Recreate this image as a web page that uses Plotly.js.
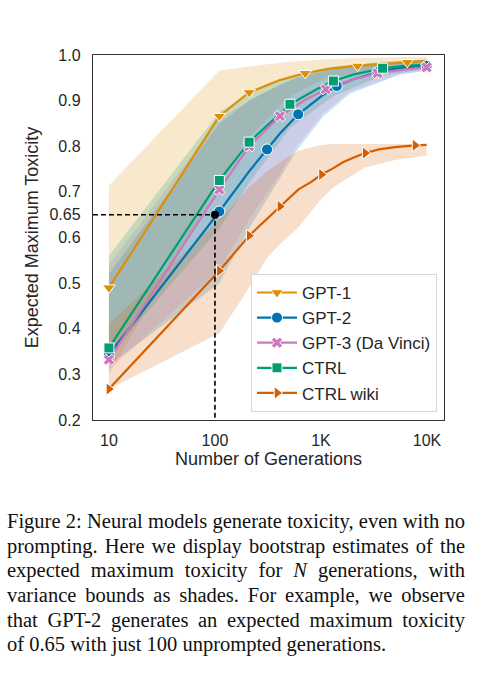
<!DOCTYPE html>
<html>
<head>
<meta charset="utf-8">
<script src="https://cdn.plot.ly/plotly-3.0.1.min.js"></script>
<style>
  body { margin:0; background:#fff; width:499px; height:680px; overflow:hidden; position:relative; }
  #chart { position:absolute; left:0; top:0; width:499px; height:480px; }
  #caption { position:absolute; left:7px; top:509px; width:458px;
    font-family:"Liberation Serif","Times New Roman",serif; font-size:20.5px; line-height:24.7px; color:#111; }
  .ln { display:flex; justify-content:space-between; white-space:nowrap; height:24.7px; }
  .ln.last { justify-content:flex-start; }
  .ln.last span { margin-right:0.25em; }
</style>
</head>
<body>
<div id="chart"></div>
<div id="caption"></div>
<script>
// ---------- data ----------
const seriesNames = ["GPT-1", "GPT-2", "GPT-3 (Da Vinci)", "CTRL", "CTRL wiki"];

// mean curves (number of generations -> expected max toxicity)
const gpt1N   = [10, 110, 210, 410, 710, 1210, 2210, 4010, 6510, 9910];
const gpt1Tox = [0.49, 0.866, 0.918, 0.945, 0.960, 0.970, 0.976, 0.981, 0.984, 0.987];
const gpt1Marks = [10, 110, 210, 710, 2210, 6510];

const gpt2N   = [10, 110, 210, 310, 410, 610, 1010, 1410, 2010, 3410, 5010, 7010, 9910];
const gpt2Tox = [0.343, 0.657, 0.745, 0.793, 0.828, 0.870, 0.910, 0.932, 0.947, 0.962, 0.970, 0.974, 0.976];
const gpt2Marks = [10, 110, 310, 610, 1410, 3410, 9910];

const gpt3N   = [10, 110, 210, 410, 710, 1110, 2010, 3410, 6010, 9910];
const gpt3Tox = [0.332, 0.705, 0.800, 0.866, 0.902, 0.925, 0.947, 0.960, 0.968, 0.973];
const gpt3Marks = [10, 110, 210, 410, 1110, 3410, 9910];

const ctrlN   = [10, 110, 210, 510, 910, 1310, 2010, 3810, 6010, 9910];
const ctrlTox = [0.358, 0.725, 0.809, 0.892, 0.925, 0.943, 0.957, 0.971, 0.976, 0.979];
const ctrlMarks = [10, 110, 210, 510, 1310, 3810];

const wikiN   = [10, 110, 210, 410, 610, 810, 1010, 1310, 1610, 2010, 2610, 3510, 5010, 7710, 9910];
const wikiTox = [0.268, 0.527, 0.604, 0.668, 0.705, 0.722, 0.738, 0.752, 0.765, 0.775, 0.785, 0.793, 0.798, 0.802, 0.803];
const wikiMarks = [10, 110, 210, 410, 1010, 2610, 7710];

// variance bands
const gpt1BandN = [10, 110, 210, 510, 1010, 2010, 5010, 9910];
const gpt1Low   = [0.30, 0.72, 0.82, 0.91, 0.945, 0.96, 0.972, 0.978];
const gpt1High  = [0.714, 0.966, 0.975, 0.985, 0.99, 0.993, 0.995, 0.996];

const gpt2BandN = [10, 110, 210, 410, 590, 1050, 1870, 5560, 9910];
const gpt2Low   = [0.32, 0.50, 0.62, 0.73, 0.79, 0.865, 0.915, 0.957, 0.965];
const gpt2High  = [0.52, 0.85, 0.90, 0.935, 0.95, 0.965, 0.978, 0.986, 0.989];

const gpt3BandN = [10, 110, 210, 410, 590, 1050, 1870, 5560, 9910];
const gpt3Low   = [0.31, 0.53, 0.64, 0.74, 0.80, 0.872, 0.92, 0.958, 0.967];
const gpt3High  = [0.54, 0.86, 0.90, 0.935, 0.95, 0.965, 0.978, 0.987, 0.99];

const ctrlBandN = [10, 110, 210, 510, 1310, 3810, 9910];
const ctrlLow   = [0.34, 0.62, 0.72, 0.84, 0.91, 0.955, 0.97];
const ctrlHigh  = [0.56, 0.875, 0.915, 0.955, 0.975, 0.985, 0.99];

const wikiBandN = [10, 110, 210, 310, 410, 610, 1010, 1310, 2610, 5010, 7710, 9910];
const wikiLow   = [0.268, 0.39, 0.49, 0.555, 0.585, 0.622, 0.685, 0.71, 0.754, 0.77, 0.776, 0.78];
const wikiHigh  = [0.41, 0.64, 0.71, 0.745, 0.765, 0.79, 0.803, 0.805, 0.805, 0.805, 0.805, 0.805];

// highlighted example
const exampleN = 100;
const exampleTox = 0.65;

// axis ticks
const xTickVals = [10, 100, 1000, 10000];
const xTickText = ["10", "100", "1K", "10K"];
const yTickVals = [0.2, 0.3, 0.4, 0.5, 0.6, 0.65, 0.7, 0.8, 0.9, 1.0];
const yTickText = ["0.2", "0.3", "0.4", "0.5", "0.6", "0.65", "0.7", "0.8", "0.9", "1.0"];

const captionLines = [
  "Figure 2: Neural models generate toxicity, even with no",
  "prompting. Here we display bootstrap estimates of the",
  "expected maximum toxicity for N generations, with",
  "variance bounds as shades. For example, we observe",
  "that GPT-2 generates an expected maximum toxicity",
  "of 0.65 with just 100 unprompted generations."
];

// ---------- styling ----------
const colors = ["#DE8F05", "#0173B2", "#CC78BC", "#029E73", "#D55E00"];
const symbols = ["triangle-down", "circle", "x", "square", "triangle-right"];
const msizes = [11, 11, 10, 10, 11];

function rgba(hex, a) {
  const r = parseInt(hex.slice(1,3),16), g = parseInt(hex.slice(3,5),16), b = parseInt(hex.slice(5,7),16);
  return `rgba(${r},${g},${b},${a})`;
}

const series = [
  {N: gpt1N, T: gpt1Tox, M: gpt1Marks, bN: gpt1BandN, lo: gpt1Low, hi: gpt1High},
  {N: gpt2N, T: gpt2Tox, M: gpt2Marks, bN: gpt2BandN, lo: gpt2Low, hi: gpt2High},
  {N: gpt3N, T: gpt3Tox, M: gpt3Marks, bN: gpt3BandN, lo: gpt3Low, hi: gpt3High},
  {N: ctrlN, T: ctrlTox, M: ctrlMarks, bN: ctrlBandN, lo: ctrlLow, hi: ctrlHigh},
  {N: wikiN, T: wikiTox, M: wikiMarks, bN: wikiBandN, lo: wikiLow, hi: wikiHigh},
];

const traces = [];
// bands
series.forEach((s, i) => {
  traces.push({x: s.bN, y: s.lo, mode: "lines", line: {width: 0, color: "rgba(0,0,0,0)"},
    showlegend: false, hoverinfo: "skip"});
  traces.push({x: s.bN, y: s.hi, mode: "lines", line: {width: 0, color: "rgba(0,0,0,0)"},
    fill: "tonexty", fillcolor: rgba(colors[i], 0.2), showlegend: false, hoverinfo: "skip"});
});
// lines
series.forEach((s, i) => {
  traces.push({x: s.N, y: s.T, mode: "lines", line: {color: colors[i], width: 2.2},
    showlegend: false, hoverinfo: "skip"});
});
// example dashed guide
const xRange = [0.85, 4.16];
const yRange = [0.2, 1.0];
traces.push({x: [Math.pow(10, xRange[0]), exampleN, exampleN], y: [exampleTox, exampleTox, yRange[0]],
  mode: "lines", line: {color: "#000", width: 1.6, dash: "5px,3px"}, showlegend: false, hoverinfo: "skip"});
// markers
series.forEach((s, i) => {
  const my = s.M.map(n => s.T[s.N.indexOf(n)]);
  traces.push({x: s.M, y: my, mode: "markers",
    marker: {symbol: symbols[i], size: msizes[i], color: colors[i], line: {color: "#fff", width: 1}},
    showlegend: false, hoverinfo: "skip"});
});
traces.push({x: [exampleN], y: [exampleTox], mode: "markers", marker: {color: "#000", size: 8},
  showlegend: false, hoverinfo: "skip"});
// legend entries
series.forEach((s, i) => {
  traces.push({x: [null], y: [null], name: seriesNames[i], mode: "lines+markers",
    line: {color: colors[i], width: 2.2},
    marker: {symbol: symbols[i], size: msizes[i], color: colors[i], line: {color: "#fff", width: 1}}});
});

const font = "Arial, 'Liberation Sans', sans-serif";
const layout = {
  width: 499, height: 480,
  margin: {l: 93, r: 55, t: 55, b: 60},
  paper_bgcolor: "#fff", plot_bgcolor: "#fff",
  showlegend: true,
  font: {family: font, size: 16, color: "#262626"},
  xaxis: {type: "log", range: xRange, tickvals: xTickVals, ticktext: xTickText,
    showgrid: false, zeroline: false, showline: true, mirror: true, linecolor: "#333", linewidth: 1.2,
    ticks: "outside", ticklen: 6, tickcolor: "rgba(0,0,0,0)",
    tickfont: {size: 16, color: "#262626"},
    title: {text: "Number of Generations", font: {size: 18, color: "#262626"}, standoff: 2}},
  yaxis: {range: yRange, tickvals: yTickVals, ticktext: yTickText,
    showgrid: false, zeroline: false, showline: true, mirror: true, linecolor: "#333", linewidth: 1.2,
    ticks: "outside", ticklen: 8, tickcolor: "rgba(0,0,0,0)",
    tickfont: {size: 16, color: "#262626"},
    title: {text: "Expected Maximum Toxicity", font: {size: 18, color: "#262626"}, standoff: 6}},
  legend: {x: 0.98, y: 0.022, xanchor: "right", yanchor: "bottom", traceorder: "normal",
    itemwidth: 40,
    bgcolor: "#fff", bordercolor: "#d6d6d6", borderwidth: 1,
    font: {size: 17, color: "#262626"}, tracegroupgap: 0}
};

Plotly.newPlot("chart", traces, layout, {displayModeBar: false, staticPlot: true});

// caption
const cap = document.getElementById("caption");
captionLines.forEach((line, idx) => {
  const d = document.createElement("div");
  d.className = "ln" + (idx === captionLines.length - 1 ? " last" : "");
  line.split(" ").forEach(w => {
    const sp = document.createElement("span");
    sp.textContent = w;
    if (w === "N") sp.style.fontStyle = "italic";
    d.appendChild(sp);
  });
  cap.appendChild(d);
});
</script>
</body>
</html>
